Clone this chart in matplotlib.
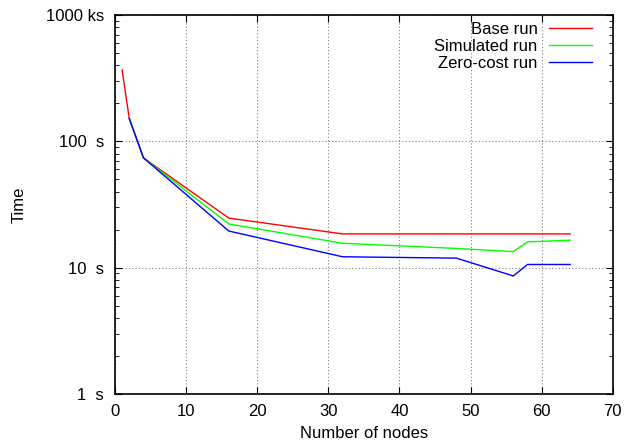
import numpy as np
import matplotlib.pyplot as plt
from matplotlib.ticker import FixedLocator, LogLocator, NullFormatter

plt.rcParams['font.family'] = ['Liberation Sans', 'DejaVu Sans']

# node counts and run times (seconds)
base_x = [1, 2, 4, 16, 32, 48, 56, 58, 64]
base_y = [367, 152, 74, 24.7, 18.5, 18.5, 18.5, 18.5, 18.5]
sim_x = [2, 4, 16, 32, 48, 56, 58, 64]
sim_y = [152, 74, 22.2, 15.6, 14.2, 13.4, 16.0, 16.5]
zero_x = [2, 4, 16, 32, 48, 56, 58, 64]
zero_y = [152, 74, 19.5, 12.2, 11.9, 8.6, 10.6, 10.6]

ytick_vals = [1, 10, 100, 1000]
ytick_labels = ['1  s', '10  s', '100  s', '1000 ks']

fig = plt.figure(figsize=(6.26, 4.43), dpi=100)
ax = fig.add_axes([0.1837, 0.1106, 0.7953, 0.8555])

ax.plot(base_x, base_y, color='#ff0000', lw=1, label='Base run')
ax.plot(sim_x, sim_y, color='#00ff00', lw=1, label='Simulated run')
ax.plot(zero_x, zero_y, color='#0000ff', lw=1, label='Zero-cost run')

ax.set_yscale('log')
ax.set_xlim(0, 70)
ax.set_ylim(1, 1000)
ax.set_xticks(np.arange(0, 71, 10))
ax.yaxis.set_major_locator(FixedLocator(ytick_vals))
ax.set_yticklabels(ytick_labels)
ax.yaxis.set_minor_locator(LogLocator(base=10, subs=np.arange(2, 10)))
ax.yaxis.set_minor_formatter(NullFormatter())

ax.tick_params(which='both', direction='in', top=True, right=True, labelsize=12)
ax.tick_params(which='major', length=5)
ax.tick_params(which='minor', length=3)
ax.tick_params(axis='y', pad=8)
ax.tick_params(axis='x', pad=7)
ax.grid(True, which='major', color='#808080', ls=(0, (1, 2)), lw=0.8)

for s in ax.spines.values():
    s.set_linewidth(1.2)

ax.set_xlabel('Number of nodes', fontsize=12, labelpad=5)
ax.set_ylabel('Time', fontsize=12, labelpad=14)

ax.legend(loc='upper right', bbox_to_anchor=(0.958, 0.981), frameon=False,
          markerfirst=False, fontsize=12, handlelength=2.6, handletextpad=0.66,
          labelspacing=0.1, borderpad=0, borderaxespad=0)

fig.savefig('out.png', dpi=100)
